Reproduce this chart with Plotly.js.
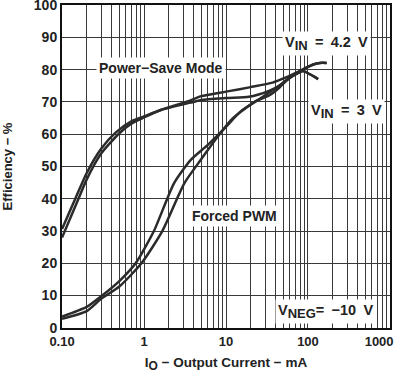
<!DOCTYPE html>
<html><head><meta charset="utf-8">
<script src="https://cdn.plot.ly/plotly-3.0.1.min.js"></script>
<style>html,body{margin:0;padding:0;background:#fff}</style>
</head><body><div id="chart" style="width:402px;height:373px"></div>
<script>
// Output current (mA) and efficiency (%)
const psHiCurrent = [0.1, 0.15, 0.2, 0.3, 0.5, 0.7, 1, 1.6, 3.7, 5, 10, 20, 37, 54, 80, 116, 140, 169];
const psHiEff     = [28, 38.5, 46, 54, 60.3, 63.3, 65.2, 67.5, 70.5, 71.8, 73.2, 74.6, 76, 77.6, 79.6, 81.6, 82.1, 82.1];

const psLoCurrent = [0.1, 0.145, 0.2, 0.3, 0.45, 0.7, 1, 1.6, 3.7, 5, 10, 19, 25, 34, 45, 60, 87, 105, 133];
const psLoEff     = [30.6, 40, 48, 55.5, 60.5, 64, 65.5, 67.5, 69.8, 70.6, 71.2, 71.6, 72.3, 73.5, 75.1, 77.5, 79.6, 78.6, 77.1];

const pwmACurrent = [0.1, 0.2, 0.3, 0.5, 0.79, 1.32, 2.32, 3.7, 6, 9.6, 15, 24.5, 34, 45, 60, 87, 105, 133];
const pwmAEff     = [3.5, 6.5, 9.8, 14.5, 20, 30, 44.8, 52, 56.7, 61.8, 67, 70.6, 73, 75.1, 77.5, 79.6, 78.6, 77.1];

const pwmBCurrent = [0.1, 0.2, 0.3, 0.5, 0.93, 1.67, 3.1, 4.9, 7.9, 11.5, 22, 34, 45, 54, 80, 116, 140, 169];
const pwmBEff     = [2.8, 5.2, 9, 12.8, 20, 30, 44.8, 52, 59.2, 64.4, 70, 72.1, 74.5, 76.5, 79.6, 81.6, 82.1, 82.1];

const yTicks = [0, 10, 20, 30, 40, 50, 60, 70, 80, 90, 100];
const xDecades = [0.1, 1, 10, 100, 1000];
const xDecadeLabels = ['0.10', '1', '10', '100', '1000\u2007\u2007\u2007'];

const xGrid = [];
const xGridText = [];
for (let d = -1; d < 3; d++) {
  for (let m = 1; m <= 9; m++) {
    const v = +(m * Math.pow(10, d)).toPrecision(3);
    xGrid.push(v);
    const idx = xDecades.indexOf(v);
    xGridText.push(idx >= 0 ? xDecadeLabels[idx] : '');
  }
}
xGrid.push(1000); xGridText.push(xDecadeLabels[4]);

const lineStyle = {color: '#2b2b2b', width: 2.5, shape: 'spline', smoothing: 0.6};
const mk = (x, y) => ({x, y, type: 'scatter', mode: 'lines', line: lineStyle, hoverinfo: 'skip', showlegend: false});
const data = [mk(psHiCurrent, psHiEff), mk(psLoCurrent, psLoEff), mk(pwmACurrent, pwmAEff), mk(pwmBCurrent, pwmBEff)];

const F = {family: 'Liberation Sans, Arial, sans-serif', color: '#222', weight: 'bold'};
const ann = (text, x, y, size) => ({text, x, y, xref: 'paper', yref: 'paper', showarrow: false,
  bgcolor: '#fff', borderpad: 2, font: Object.assign({}, F, {size: size || 14}), xanchor: 'center', yanchor: 'middle'});
const sub = (t, s) => '<sub><span style="font-size:' + (s || 12) + 'px">' + t + '</span></sub>';
const E = '\u2002';

const layout = {
  width: 402, height: 373,
  margin: {l: 62, r: 12, t: 5, b: 45},
  paper_bgcolor: '#fff', plot_bgcolor: '#fff',
  font: F,
  xaxis: {type: 'log', range: [-1.0005, 3.0005], tickvals: xGrid, ticktext: xGridText, ticks: '', tickangle: 0,
    ticklabeloverflow: 'allow',
    showgrid: true, gridcolor: '#3a3a3a', gridwidth: 1, zeroline: false,
    showline: true, linecolor: '#111', linewidth: 2, mirror: true,
    tickfont: Object.assign({}, F, {size: 13}),
    title: {text: 'I' + sub('O') + ' − Output Current − mA', font: Object.assign({}, F, {size: 13.5}), standoff: 11}},
  yaxis: {range: [-0.05, 100.05], tickvals: yTicks, ticks: '', showgrid: true, gridcolor: '#3a3a3a', gridwidth: 1,
    ticklabeloverflow: 'allow',
    zeroline: false, showline: true, linecolor: '#111', linewidth: 2, mirror: true,
    tickfont: Object.assign({}, F, {size: 14}),
    title: {text: 'Efficiency − %', font: Object.assign({}, F, {size: 13}), standoff: 20}},
  annotations: [
    ann('Power−Save Mode', 0.302, 0.805),
    ann('V' + sub('IN', 13) + E + '=' + E + '4.2' + E + 'V', 0.807, 0.882, 14.5),
    ann('V' + sub('IN', 13) + E + '=' + E + '3' + E + 'V', 0.868, 0.669, 14.5),
    ann('Forced PWM', 0.525, 0.347),
    ann('V' + sub('NEG', 13) + '=' + E + '−10' + E + 'V', 0.804, 0.05, 14.5)
  ]
};
Plotly.newPlot('chart', data, layout, {staticPlot: true, displayModeBar: false});
</script></body></html>
